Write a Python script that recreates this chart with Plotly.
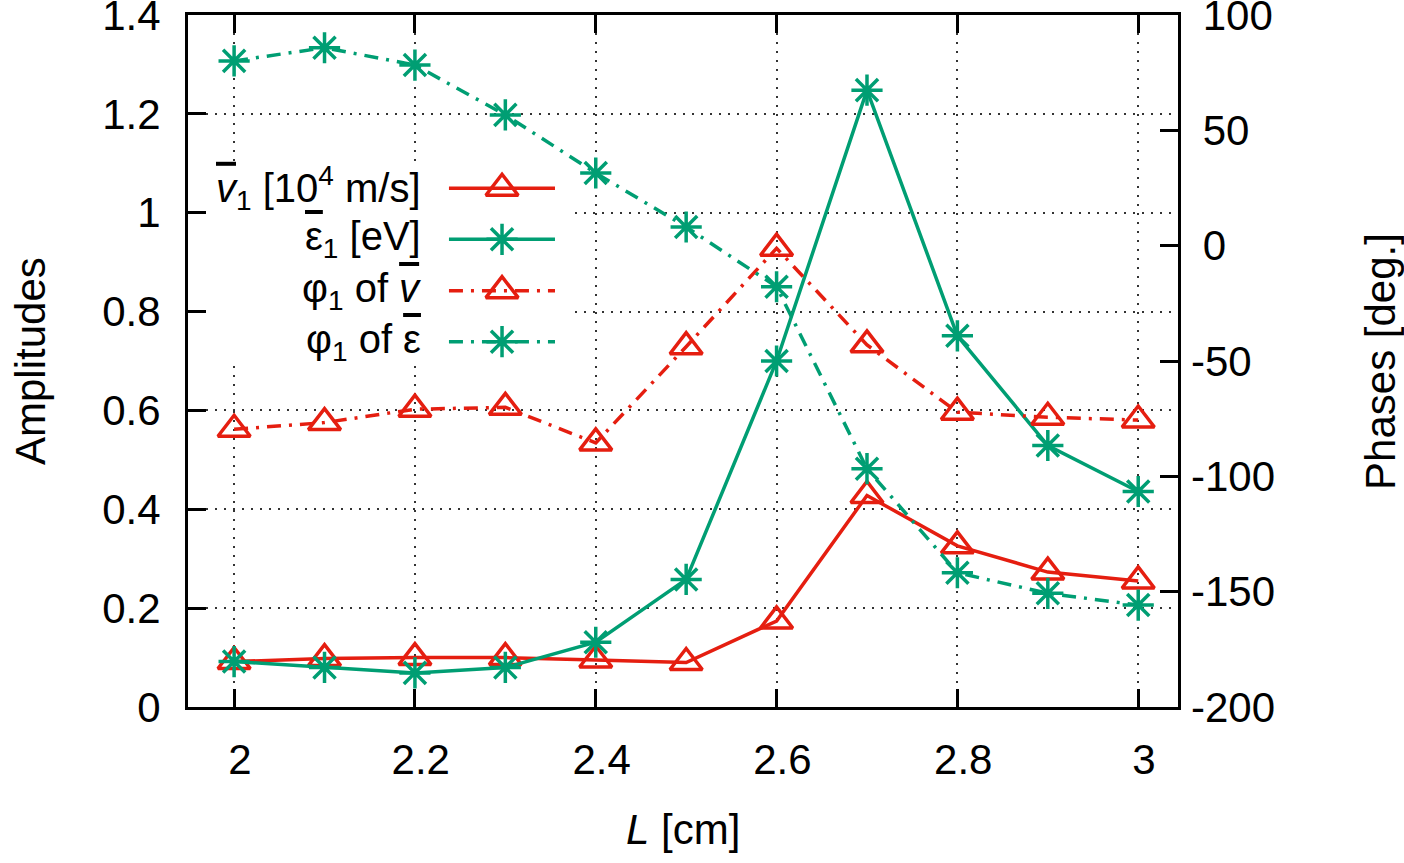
import plotly.graph_objects as go

# ---- data ----
L_cm = [2.0, 2.1, 2.2, 2.3, 2.4, 2.5, 2.6, 2.7, 2.8, 2.9, 3.0]
v1_amp = [0.092, 0.098, 0.100, 0.100, 0.095, 0.090, 0.174, 0.428, 0.326, 0.273, 0.255]
eps1_amp = [0.092, 0.080, 0.069, 0.080, 0.131, 0.258, 0.700, 1.248, 0.751, 0.529, 0.436]
v_phase = [-79.6, -76.7, -70.9, -70.1, -85.5, -43.8, -1.1, -43.0, -72.2, -74.4, -75.6]
eps_phase = [80.1, 85.8, 78.3, 56.7, 31.5, 8.1, -17.8, -96.7, -141.8, -150.7, -155.8]

x_ticks = [2.0, 2.2, 2.4, 2.6, 2.8, 3.0]
x_ticklabels = ["\u00a02", "\u00a02.2", "\u00a02.4", "\u00a02.6", "\u00a02.8", "\u00a03"]
y_ticks = [0, 0.2, 0.4, 0.6, 0.8, 1.0, 1.2, 1.4]
y_ticklabels = ["0", "0.2", "0.4", "0.6", "0.8", "1", "1.2", "1.4"]
y2_ticks = [-200, -150, -100, -50, 0, 50, 100]
y2_ticklabels = ["-200", "-150", "-100", "-50", "\u00a00", "\u00a050", "\u00a0100"]

OVL = "text-decoration:overline;text-decoration-thickness:5px"
legend_labels = [
    f"<span style='{OVL}'><i>v</i></span><sub>1</sub> [10<sup>4</sup> m/s]",
    f"<span style='{OVL}'>\u03b5</span><sub>1</sub> [eV]",
    f"\u03c6<sub>1</sub> of <span style='{OVL}'><i>v</i></span>",
    f"\u03c6<sub>1</sub> of <span style='{OVL}'>\u03b5</span>",
]

RED = "#e51e10"
GREEN = "#009e73"
FONT = "Liberation Sans, Arial, sans-serif"
DASHDOT = "14px,8px,3px,8px"
LW = 3.5

styles = [
    dict(color=RED, dash="solid", symbol="triangle-up-open", size=28),
    dict(color=GREEN, dash="solid", symbol="asterisk-open", size=26),
    dict(color=RED, dash=DASHDOT, symbol="triangle-up-open", size=28),
    dict(color=GREEN, dash=DASHDOT, symbol="asterisk-open", size=26),
]
series = [(v1_amp, "y"), (eps1_amp, "y"), (v_phase, "y2"), (eps_phase, "y2")]

fig = go.Figure()
for (vals, yax), st, name in zip(series, styles, legend_labels):
    fig.add_trace(go.Scatter(
        x=L_cm, y=vals, yaxis=yax, mode="lines+markers", name=name,
        line=dict(color=st["color"], width=LW, dash=st["dash"]),
        marker=dict(symbol=st["symbol"], size=st["size"], color=st["color"],
                    line=dict(color=st["color"], width=LW)),
        showlegend=False, cliponaxis=False,
    ))

# opaque key background (hides the dotted grid under the key), on an overlay axis in [0,1]
fig.add_trace(go.Scatter(
    x=[0, 0.386, 0.386, 0, 0], y=[0.494, 0.494, 0.786, 0.786, 0.494],
    xaxis="x3", yaxis="y3", mode="lines", fill="toself", fillcolor="white",
    line=dict(width=0, color="white"), showlegend=False, hoverinfo="skip",
))

# gnuplot-style key: text on the left, sample on the right
key_rows = [0.7496, 0.6759, 0.6016, 0.5279]
key_x0, key_xm, key_x1 = 0.2636, 0.3172, 0.3707
for row, st, name in zip(key_rows, styles, legend_labels):
    fig.add_trace(go.Scatter(
        x=[key_x0, key_x1], y=[row, row], xaxis="x3", yaxis="y3",
        mode="lines", showlegend=False, hoverinfo="skip",
        line=dict(color=st["color"], width=LW, dash=st["dash"]),
    ))
    fig.add_trace(go.Scatter(
        x=[key_xm], y=[row], xaxis="x3", yaxis="y3",
        mode="markers", showlegend=False, hoverinfo="skip",
        marker=dict(symbol=st["symbol"], size=st["size"], color=st["color"],
                    line=dict(color=st["color"], width=LW)),
    ))
    fig.add_annotation(x=0.2374, y=row, xref="paper", yref="paper", text=name,
                       showarrow=False, xanchor="right", yanchor="middle",
                       font=dict(family=FONT, size=40, color="black"))

# axis titles
fig.add_annotation(x=-0.1596, y=0.5, xref="paper", yref="paper", text="Amplitudes",
                   textangle=-90, showarrow=False, xanchor="center", yanchor="middle",
                   font=dict(family=FONT, size=42, color="black"))
fig.add_annotation(x=1.204, y=0.5, xref="paper", yref="paper", text="Phases [deg.]",
                   textangle=-90, showarrow=False, xanchor="center", yanchor="middle",
                   font=dict(family=FONT, size=42, color="black"))
fig.add_annotation(x=0.5, y=-0.1777, xref="paper", yref="paper", text="<i>L</i> [cm]",
                   showarrow=False, xanchor="center", yanchor="middle",
                   font=dict(family=FONT, size=42, color="black"))

grid = dict(showgrid=True, gridcolor="#333333", gridwidth=1.5, griddash="2px,7px")
fig.update_layout(
    template="none",
    width=1404, height=863,
    margin=dict(l=188, r=226, t=15, b=156, autoexpand=False),
    paper_bgcolor="white", plot_bgcolor="white",
    font=dict(family=FONT, size=42, color="black"),
    xaxis=dict(range=[1.949, 3.044], tickmode="array", tickvals=x_ticks, ticktext=x_ticklabels,
               ticks="inside", ticklen=18, tickwidth=2.5, tickcolor="black",
               showline=True, linewidth=3, linecolor="black", automargin=False,
               mirror="ticks", zeroline=False, ticklabelstandoff=14, **grid),
    yaxis=dict(range=[0, 1.4], tickmode="array", tickvals=y_ticks, ticktext=y_ticklabels,
               ticks="inside", ticklen=18, tickwidth=2.5, automargin=False,
               tickcolor="black", showline=True, linewidth=3, linecolor="black", mirror=True,
               zeroline=False, ticklabelstandoff=16, ticklabeloverflow="allow", **grid),
    yaxis2=dict(range=[-200, 100], tickmode="array", tickvals=y2_ticks, ticktext=y2_ticklabels,
                overlaying="y", side="right", ticks="inside", automargin=False,
                ticklen=18, tickwidth=2.5, tickcolor="black", showline=False, showgrid=False,
                zeroline=False, ticklabelstandoff=12, ticklabeloverflow="allow"),
    xaxis3=dict(range=[0, 1], overlaying="x", anchor="y3", visible=False, fixedrange=True,
                automargin=False),
    yaxis3=dict(range=[0, 1], overlaying="y", anchor="x3", visible=False, fixedrange=True,
                automargin=False),
)

fig.write_html("out.html", config={"displayModeBar": False})
with open("out.html", "r", encoding="utf-8") as f:
    html = f.read()
html = html.replace("<body>", '<body style="margin:0;padding:0;">', 1)
with open("out.html", "w", encoding="utf-8") as f:
    f.write(html)
